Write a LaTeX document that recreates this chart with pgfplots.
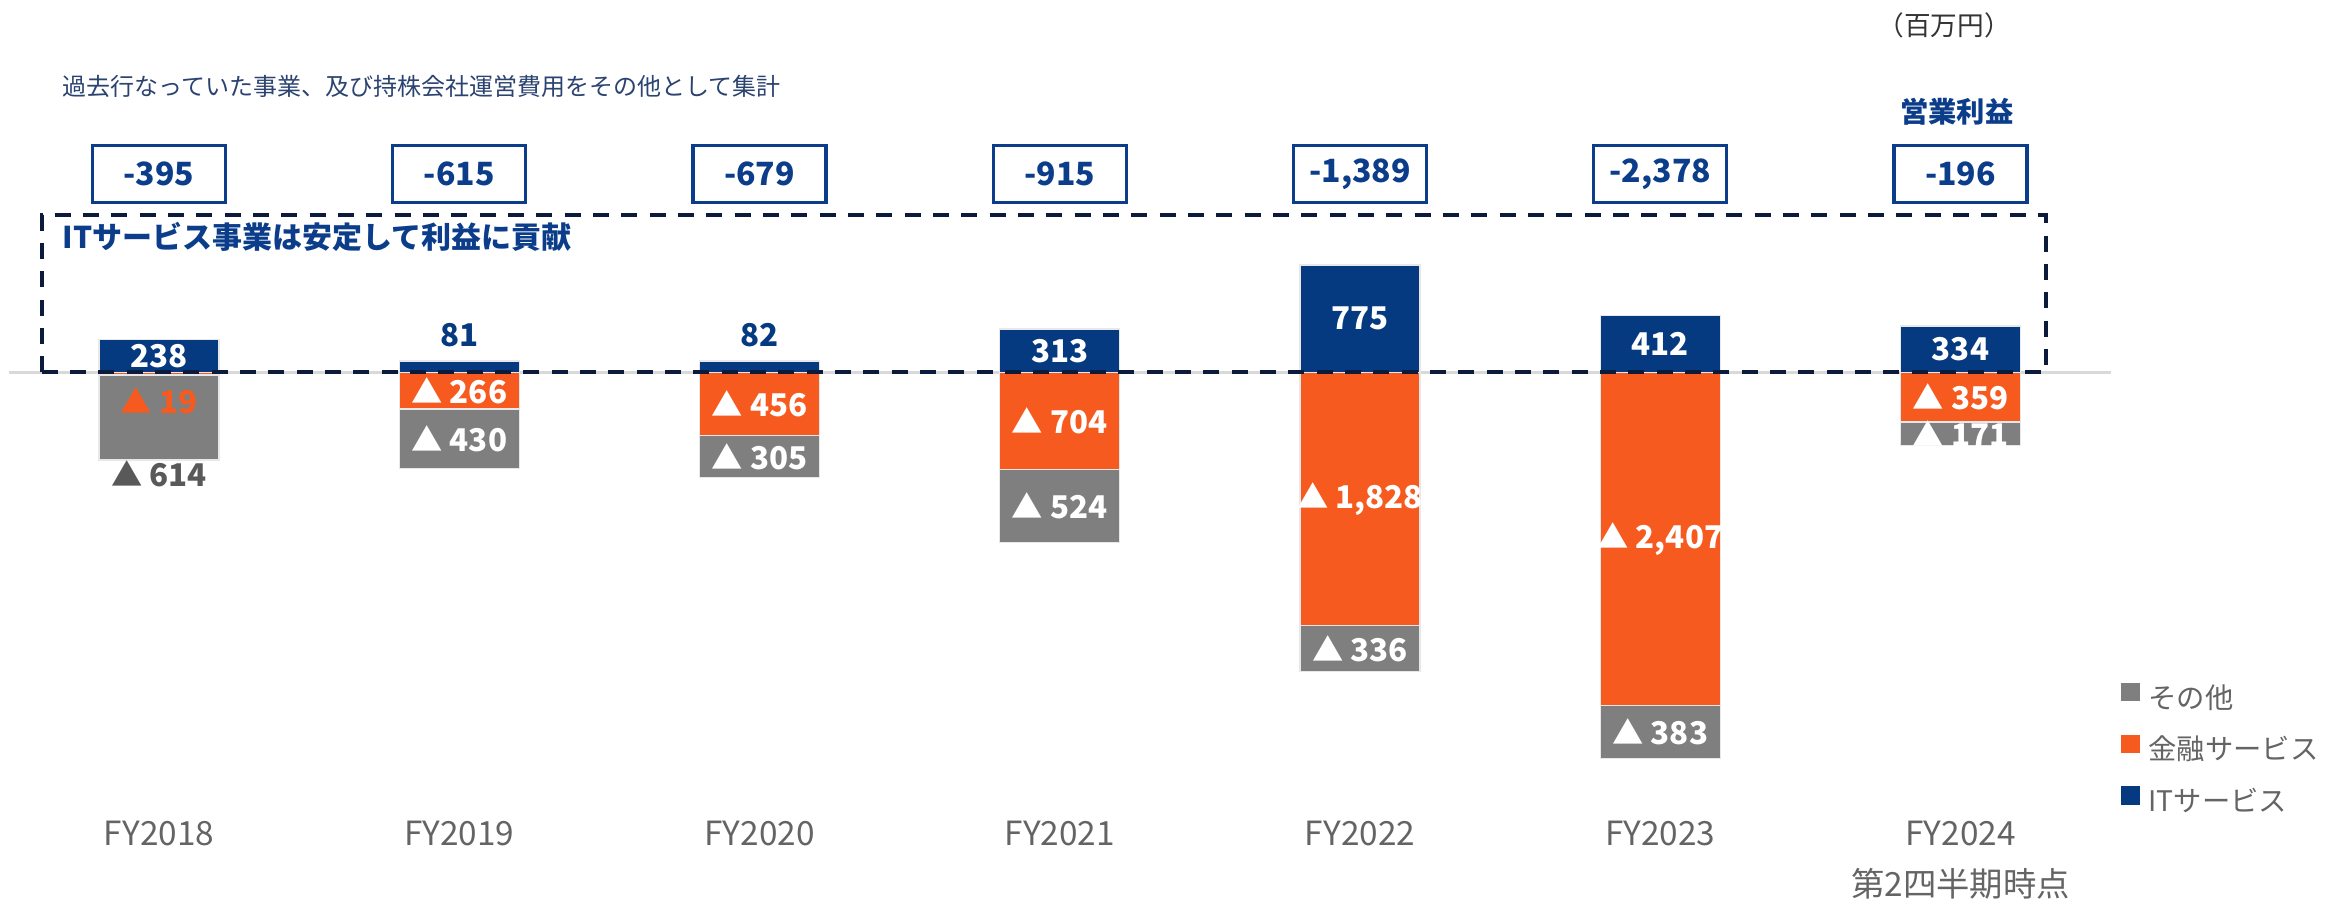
\documentclass[border=0pt]{standalone}
\usepackage{fontspec}
\setmainfont{Noto Sans CJK JP}
\usepackage{pgfplots}
\usepackage{pgfplotstable}
\pgfplotsset{compat=1.18}

\definecolor{itblue}{HTML}{053A80}
\definecolor{finorange}{HTML}{F75A1F}
\definecolor{othgray}{HTML}{7F7F7F}
\definecolor{dashnavy}{HTML}{0C1A3C}
\definecolor{boxblue}{HTML}{0B3D8A}
\definecolor{txtgray}{HTML}{595959}
\definecolor{ticklgray}{HTML}{646464}
\definecolor{notenavy}{HTML}{2B4370}
\definecolor{zerogray}{HTML}{D9D9D9}

% segment values (million yen); negative values are losses
\pgfplotstableread{
x it fin oth tot
0 238 -19 -614 -633
1 81 -266 -430 -696
2 82 -456 -305 -761
3 313 -704 -524 -1228
4 775 -1828 -336 -2164
5 412 -2407 -383 -2790
6 334 -359 -171 -530
}\segdata

\pgfplotsset{
  lbl/.style={only marks, mark=none, forget plot, point meta=explicit symbolic,
    nodes near coords,
    every node near coord/.append style={anchor=center, inner sep=0pt,
      font=\bfseries\fontsize{9.4}{10}\selectfont, text=#1}},
  seg/.style={ybar, bar width=0.4, bar shift=0pt, fill=#1, draw=white!82!gray, line width=0.4pt},
}

\begin{document}
\begin{tikzpicture}
\begin{axis}[
  scale only axis, width=697.5pt, height=270.6pt,
  xmin=-0.5296, xmax=7.2139, ymin=-3829.5, ymax=2687.9,
  axis line style={draw=none}, major tick length=0pt, ytick=\empty,
  xtick={0,...,6},
  xticklabels={FY2018,FY2019,FY2020,FY2021,FY2022,FY2023,{FY2024\\第2四半期時点}},
  xticklabel style={align=center, anchor=north, yshift=24.6pt, inner sep=0pt,
    text=ticklgray, font=\fontsize{10}{15.3}\selectfont},
  clip=false,
  legend cell align=left,
  legend style={at={(axis cs:6.535,-2245)}, anchor=north west, draw=none, fill=none,
    inner sep=0pt, outer sep=0pt, text=ticklgray, font=\fontsize{8.5}{9.5}\selectfont,
    row sep=6.4pt, nodes={inner sep=0pt, text height=6.2pt, text depth=1.6pt}},
]
% zero line
\addplot[zerogray, line width=0.9pt, forget plot] coordinates {(-0.5,0) (6.5,0)};

\addplot[seg=othgray, legend image code/.code={\fill[othgray] (0pt,-0.1pt) rectangle (5.1pt,5.0pt); \path (7.8pt,0pt);}]
  table[x=x, y=tot]{\segdata};
\addlegendentry{その他}
\addplot[seg=finorange, legend image code/.code={\fill[finorange] (0pt,-0.1pt) rectangle (5.1pt,5.0pt); \path (7.8pt,0pt);}]
  table[x=x, y=fin]{\segdata};
\addlegendentry{金融サービス}
\addplot[seg=itblue, legend image code/.code={\fill[itblue] (0pt,-0.1pt) rectangle (5.1pt,5.0pt); \path (7.8pt,0pt);}]
  table[x=x, y=it]{\segdata};
\addlegendentry{ITサービス}

% dashed highlight box
\draw[dashnavy, line width=1.2pt, dash pattern=on 4.8pt off 3.7pt]
  (axis cs:-0.391,0) rectangle (axis cs:6.285,1134);

% IT labels
\addplot[lbl=white] coordinates {(0,119)[238] (3,156.5)[313] (4,387.5)[775] (5,206)[412] (6,167)[334]};
\addplot[lbl=itblue] coordinates {(1,267)[81] (2,267)[82]};
% financial labels
\addplot[lbl=white] coordinates {(1,-133)[{▲ 266}] (2,-228)[{▲ 456}] (3,-352)[{▲ 704}] (4,-914)[{▲ 1,828}] (5,-1203.5)[{▲ 2,407}] (6,-179.5)[{▲ 359}]};
\addplot[lbl=finorange] coordinates {(0,-202)[{▲ 19}]};
% other labels
\addplot[lbl=white] coordinates {(1,-481)[{▲ 430}] (2,-608.5)[{▲ 305}] (3,-966)[{▲ 524}] (4,-1996)[{▲ 336}] (5,-2598.5)[{▲ 383}] (6,-444.5)[{▲ 171}]};
\addplot[lbl=txtgray] coordinates {(0,-730)[{▲ 614}]};

% operating profit boxes
\addplot[only marks, mark=none, forget plot, point meta=explicit symbolic, nodes near coords,
  every node near coord/.append style={anchor=center, draw=boxblue, line width=1pt, fill=white,
    minimum width=39.9pt, minimum height=17.1pt, inner sep=0pt, text=boxblue,
    font=\bfseries\fontsize{9.6}{10}\selectfont}]
  coordinates {(0,1434)[-395] (1,1434)[-615] (2,1434)[-679] (3,1434)[-915] (4,1434)[{-1,389}] (5,1434)[{-2,378}] (6,1434)[-196]};

\node[anchor=west, inner sep=0pt, text=boxblue, font=\bfseries\fontsize{9}{10}\selectfont]
  at (axis cs:-0.323,975) {ITサービス事業は安定して利益に貢献};
\node[anchor=west, inner sep=0pt, text=notenavy, font=\fontsize{7.2}{8}\selectfont]
  at (axis cs:-0.323,2066) {過去行なっていた事業、及び持株会社運営費用をその他として集計};
\node[inner sep=0pt, text=boxblue, font=\bfseries\fontsize{8.5}{9}\selectfont]
  at (axis cs:5.988,1886) {営業利益};
\node[inner sep=0pt, text=black!80, font=\fontsize{8}{9}\selectfont]
  at (axis cs:5.945,2507) {（百万円）};

\path (rel axis cs:0,0) rectangle (rel axis cs:1,1);
\end{axis}
\end{tikzpicture}
\end{document}
